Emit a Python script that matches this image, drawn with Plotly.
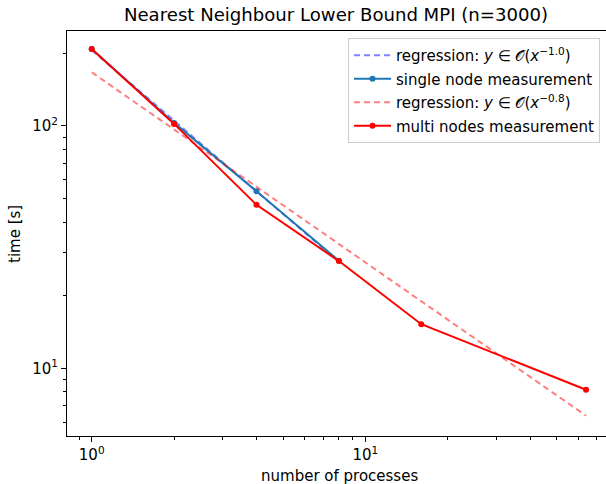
import plotly.graph_objects as go

# ---- data ----
procs_single = [1, 2, 4, 8]
time_single = [208, 103, 53.8, 27.8]
procs_multi = [1, 2, 4, 8, 16, 64]
time_multi = [208, 102, 47.3, 27.7, 15.2, 8.16]
reg_single_x = [1, 8]
reg_single_y = [205.5, 27.5]
reg_multi_x = [1, 64]
reg_multi_y = [166.6, 6.37]

x_major = [1, 10]
x_major_text = ["10<sup>0</sup>", "10<sup>1</sup>"]
x_minor = [0.9, 2, 3, 4, 5, 6, 7, 8, 9, 20, 30, 40, 50, 60, 70]
y_major = [10, 100]
y_major_text = ["10<sup>1</sup>", "10<sup>2</sup>"]
y_minor = [6, 7, 8, 9, 20, 30, 40, 50, 60, 70, 80, 90, 200]

FONT = "DejaVu Sans"
FS = 15
W, H = 606, 484
L, R, T, B = 67, 0, 31, 48

fig = go.Figure()
fig.add_trace(go.Scatter(
    x=reg_single_x, y=reg_single_y, mode="lines", legendgroup="a",
    line=dict(color="rgba(0,0,255,0.5)", width=2, dash="6px,4px"),
    name="regression: <i>y</i> ∈ 𝒪(<i>x</i><sup>−1.0</sup>)"))
fig.add_trace(go.Scatter(
    x=procs_single, y=time_single, mode="lines+markers", legendgroup="b",
    line=dict(color="#1f77b4", width=2), marker=dict(size=6, color="#1f77b4"),
    name="single node measurement"))
fig.add_trace(go.Scatter(
    x=reg_multi_x, y=reg_multi_y, mode="lines", legendgroup="c",
    line=dict(color="rgba(255,0,0,0.5)", width=2, dash="6px,4px"),
    name="regression: <i>y</i> ∈ 𝒪(<i>x</i><sup>−0.8</sup>)"))
fig.add_trace(go.Scatter(
    x=procs_multi, y=time_multi, mode="lines+markers", legendgroup="d",
    line=dict(color="#ff0000", width=2), marker=dict(size=6, color="#ff0000"),
    name="multi nodes measurement"))

pw = W - L - R
ph = H - T - B

fig.update_layout(
    width=W, height=H,
    margin=dict(l=L, r=R, t=T, b=B, autoexpand=False),
    paper_bgcolor="white", plot_bgcolor="white",
    font=dict(family=FONT, size=FS, color="black"),
    title=dict(text="Nearest Neighbour Lower Bound MPI (n=3000)",
               x=(67 + 605) / 2 / W, xanchor="center",
               y=1 - 14.5 / H, yanchor="middle", yref="container",
               font=dict(size=18.1, family=FONT)),
    showlegend=True,
    legend=dict(x=(348 - L) / pw, xanchor="left", y=(H - B - 38) / ph, yanchor="top",
                bgcolor="rgba(255,255,255,0.8)", bordercolor="#cccccc",
                borderwidth=1, font=dict(size=FS, family=FONT),
                tracegroupgap=1, itemwidth=37),
    annotations=[
        dict(text="number of processes", xref="paper", yref="paper",
             x=(339 - L) / pw, y=-(476 - (H - B)) / ph, xanchor="center", yanchor="middle",
             showarrow=False, font=dict(size=FS, family=FONT)),
        dict(text="time [s]", xref="paper", yref="paper", textangle=-90,
             x=-(L - 15) / pw, y=(H - B - 234) / ph, xanchor="center", yanchor="middle",
             showarrow=False, font=dict(size=FS, family=FONT)),
    ],
)
fig.update_xaxes(
    type="log", range=[-0.0903, 1.879], automargin=False,
    tickmode="array", tickvals=x_major, ticktext=x_major_text,
    ticks="outside", ticklen=5, tickwidth=1, tickcolor="black",
    tickfont=dict(size=FS, family=FONT),
    minor=dict(tickmode="array", tickvals=x_minor, ticks="outside",
               ticklen=3, tickwidth=1, tickcolor="black", showgrid=False),
    showgrid=False, zeroline=False,
    showline=True, linecolor="black", linewidth=1, mirror=True,
)
fig.update_yaxes(
    type="log", range=[0.7206, 2.392], automargin=False,
    tickmode="array", tickvals=y_major, ticktext=y_major_text,
    ticks="outside", ticklen=5, tickwidth=1, tickcolor="black",
    tickfont=dict(size=FS, family=FONT),
    minor=dict(tickmode="array", tickvals=y_minor, ticks="outside",
               ticklen=3, tickwidth=1, tickcolor="black", showgrid=False),
    showgrid=False, zeroline=False,
    showline=True, linecolor="black", linewidth=1, mirror=False,
)

fig.write_html("out.html", config={"displayModeBar": False},
               post_script="document.body.style.margin='0';document.body.style.padding='0';")
